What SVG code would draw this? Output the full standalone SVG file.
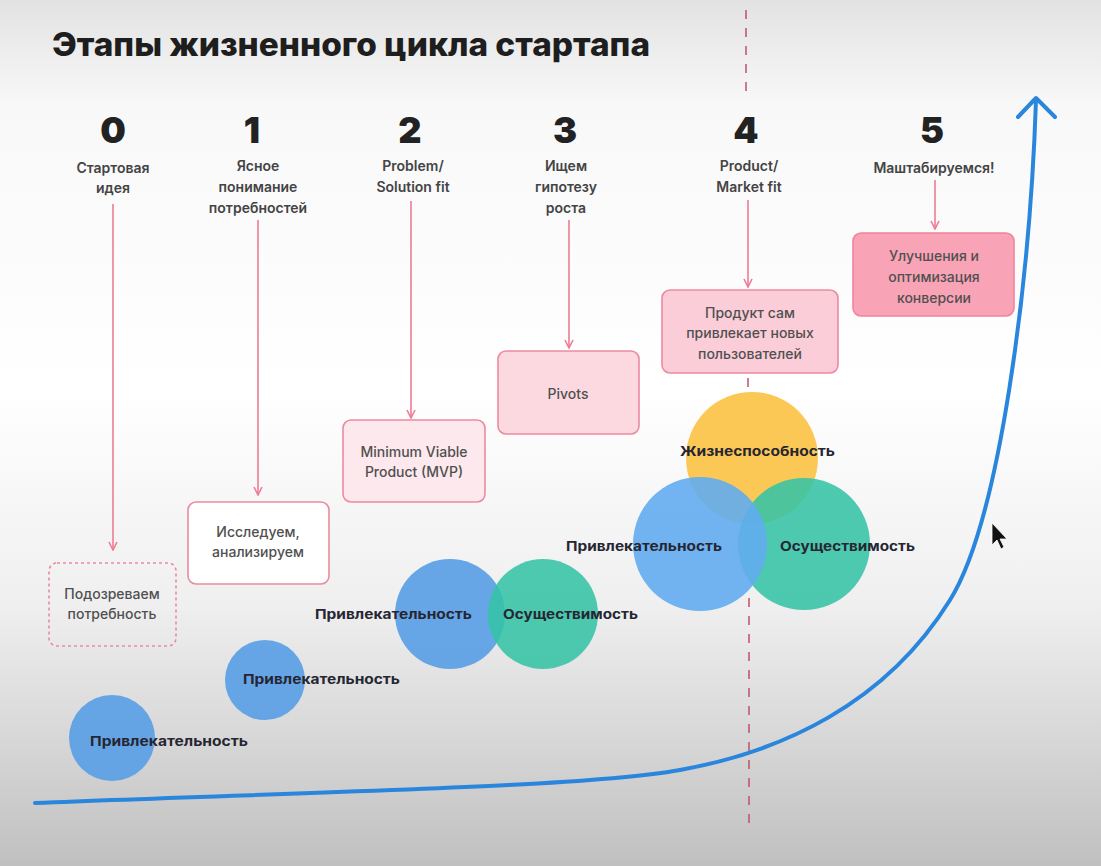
<svg xmlns="http://www.w3.org/2000/svg" width="1101" height="866" viewBox="0 0 1101 866">
<defs>
<linearGradient id="bg" x1="0" y1="0" x2="0" y2="1">
<stop offset="0" stop-color="#e2e2e2"/>
<stop offset="0.12" stop-color="#f8f8f8"/>
<stop offset="0.45" stop-color="#ffffff"/>
<stop offset="0.7" stop-color="#efefef"/>
<stop offset="1" stop-color="#c0c0c0"/>
</linearGradient>
<marker id="ah" viewBox="0 0 10 10" refX="9" refY="5" markerWidth="10" markerHeight="10" markerUnits="userSpaceOnUse" orient="auto">
<path d="M1,1 L9,5 L1,9" fill="none" stroke="#ec7d95" stroke-width="1.6"/>
</marker>
<style>
.ttl{font-family:Inter,"Noto Sans",sans-serif;font-weight:800;font-size:32px;fill:#1e1e1e}
.num{font-family:Inter,"Noto Sans",sans-serif;font-weight:900;font-size:36px;fill:#222;text-anchor:middle}
.lbl{font-family:Inter,"Noto Sans",sans-serif;font-weight:600;font-size:14px;fill:#444;text-anchor:middle}
.btx{font-family:Inter,"Noto Sans",sans-serif;font-weight:500;font-size:14px;fill:#505050;text-anchor:middle}
.ctx{font-family:Inter,"Noto Sans",sans-serif;font-weight:700;font-size:13.5px;fill:#262633}
.arr{stroke:#ec7d95;stroke-width:1.6;fill:none;marker-end:url(#ah)}
.box{stroke:#ec8aa0;stroke-width:1.6}
.blue{fill:#5a9fe6;opacity:0.92}
.blue2{fill:#62acf0;opacity:0.9}
.green{fill:#36c3a6;opacity:0.88}
.yellow{fill:#fcc54c;opacity:0.95}
</style>
</defs>
<rect width="1101" height="866" fill="url(#bg)"/>

<g id="divider" stroke="#c0506a" stroke-width="1.5" stroke-dasharray="9 9" fill="none">
<line x1="746" y1="10" x2="746" y2="100"/>
<line x1="748" y1="378" x2="748" y2="392"/>
<line x1="749" y1="598" x2="749" y2="828"/>
</g>

<text class="ttl" x="52" y="56" textLength="598" lengthAdjust="spacingAndGlyphs">Этапы жизненного цикла стартапа</text>

<g id="growth-curve" fill="none" stroke="#2a86dc" stroke-width="4" stroke-linecap="round" stroke-linejoin="round">
<path d="M35,803 C300,792 580,788 680,770 C780,752 885,705 950,600 C1000,520 1030,280 1036,100"/>
<polyline points="1018,117 1036,98 1055,117"/>
</g>

<g id="connectors">
<line class="arr" x1="113" y1="204" x2="113" y2="550"/>
<line class="arr" x1="258" y1="220" x2="258" y2="495"/>
<line class="arr" x1="411" y1="201" x2="411" y2="418"/>
<line class="arr" x1="569" y1="220" x2="569" y2="348"/>
<line class="arr" x1="748" y1="200" x2="748" y2="287"/>
<line class="arr" x1="935" y1="180" x2="935" y2="229"/>
</g>

<g id="stage0">
<text class="num" x="113" y="143">0</text>
<text class="lbl" x="113" y="173">Стартовая</text>
<text class="lbl" x="113" y="193">идея</text>
</g>
<g id="stage1">
<text class="num" x="252" y="143">1</text>
<text class="lbl" x="258" y="171">Ясное</text>
<text class="lbl" x="258" y="192">понимание</text>
<text class="lbl" x="258" y="213">потребностей</text>
</g>
<g id="stage2">
<text class="num" x="410" y="143">2</text>
<text class="lbl" x="413" y="171">Problem/</text>
<text class="lbl" x="413" y="192">Solution fit</text>
</g>
<g id="stage3">
<text class="num" x="565" y="143">3</text>
<text class="lbl" x="566" y="171">Ищем</text>
<text class="lbl" x="566" y="192">гипотезу</text>
<text class="lbl" x="566" y="213">роста</text>
</g>
<g id="stage4">
<text class="num" x="746" y="143">4</text>
<text class="lbl" x="749" y="171">Product/</text>
<text class="lbl" x="749" y="192">Market fit</text>
</g>
<g id="stage5">
<text class="num" x="932" y="143">5</text>
<text class="lbl" x="934" y="173">Маштабируемся!</text>
</g>

<g id="box0">
<rect x="49" y="563" width="127" height="83" rx="8" fill="none" stroke="#ec8aa0" stroke-width="1.6" stroke-dasharray="3 3"/>
<text class="btx" x="112" y="599">Подозреваем</text>
<text class="btx" x="112" y="619">потребность</text>
</g>
<g id="box1">
<rect class="box" x="188" y="502" width="141" height="82" rx="8" fill="#ffffff"/>
<text class="btx" x="258" y="537">Исследуем,</text>
<text class="btx" x="258" y="557">анализируем</text>
</g>
<g id="box2">
<rect class="box" x="343" y="420" width="142" height="82" rx="8" fill="#fde8ed"/>
<text class="btx" x="414" y="457">Minimum Viable</text>
<text class="btx" x="414" y="477">Product (MVP)</text>
</g>
<g id="box3">
<rect class="box" x="498" y="351" width="141" height="83" rx="8" fill="#fcd9e1"/>
<text class="btx" x="568" y="399">Pivots</text>
</g>
<g id="box4">
<rect class="box" x="662" y="290" width="176" height="83" rx="8" fill="#fbcdd8"/>
<text class="btx" x="750" y="318">Продукт сам</text>
<text class="btx" x="750" y="338">привлекает новых</text>
<text class="btx" x="750" y="359">пользователей</text>
</g>
<g id="box5">
<rect x="853" y="233" width="161" height="83" rx="8" fill="#f8a3b6" stroke="#f0849c" stroke-width="1.6"/>
<text class="btx" x="934" y="261">Улучшения и</text>
<text class="btx" x="934" y="282">оптимизация</text>
<text class="btx" x="934" y="303">конверсии</text>
</g>

<g id="circles0">
<circle class="blue" cx="112" cy="738" r="43"/>
<text class="ctx" x="90" y="746" textLength="158" lengthAdjust="spacingAndGlyphs">Привлекательность</text>
</g>
<g id="circles1">
<circle class="blue" cx="265" cy="680" r="40"/>
<text class="ctx" x="243" y="684" textLength="157" lengthAdjust="spacingAndGlyphs">Привлекательность</text>
</g>
<g id="circles2">
<circle class="blue" cx="450" cy="614" r="55"/>
<circle class="green" cx="543" cy="614" r="55"/>
<text class="ctx" x="315" y="619" textLength="157" lengthAdjust="spacingAndGlyphs">Привлекательность</text>
<text class="ctx" x="503" y="619" textLength="135" lengthAdjust="spacingAndGlyphs">Осуществимость</text>
</g>
<g id="circles4">
<circle class="yellow" cx="752" cy="458" r="66"/>
<circle class="green" cx="804" cy="544" r="66"/>
<circle class="blue2" cx="700" cy="544" r="67"/>
<text class="ctx" x="680" y="456" textLength="155" lengthAdjust="spacingAndGlyphs">Жизнеспособность</text>
<text class="ctx" x="566" y="551" textLength="156" lengthAdjust="spacingAndGlyphs">Привлекательность</text>
<text class="ctx" x="780" y="551" textLength="135" lengthAdjust="spacingAndGlyphs">Осуществимость</text>
</g>

<g id="cursor">
<path d="M992,523 L992,545 L997,540 L1001,549 L1004,547 L1000,539 L1007,539 Z" fill="#111" stroke="#fff" stroke-width="0.8"/>
</g>
</svg>
